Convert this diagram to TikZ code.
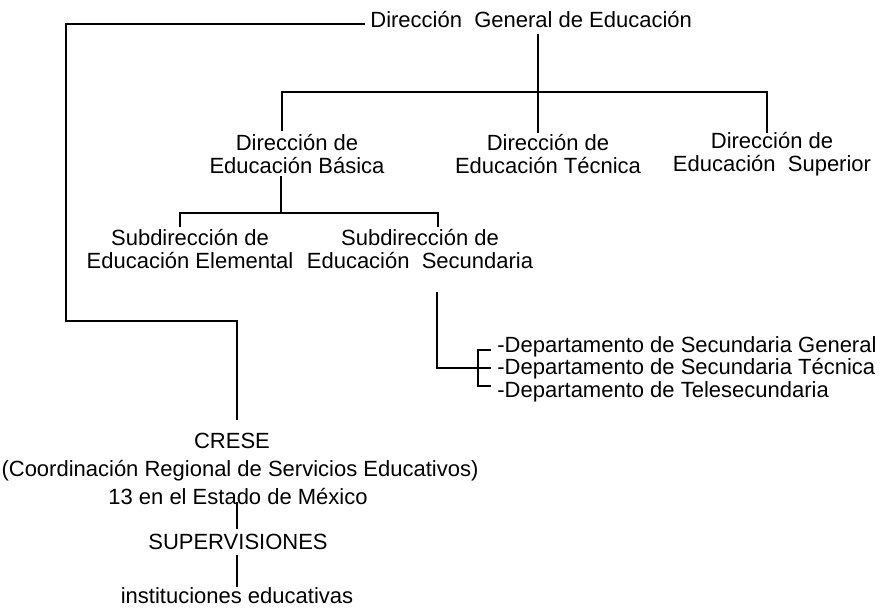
\documentclass[tikz,border=0pt]{standalone}
\usepackage{fontspec}
\setmainfont{Liberation Sans}
\begin{document}
\begin{tikzpicture}[x=0.5pt,y=-0.5pt,
  lbl/.style={font=\fontsize{11}{11.5}\selectfont, inner sep=0pt, align=center},
  conn/.style={draw=black, line width=1.15pt, line cap=rect}]
\useasboundingbox (0,0) rectangle (884,607);
% nodes
\node[lbl, anchor=base west] (title) at (370,27) {Dirección\ \ General de Educación};
\node[lbl] (bas) at (297,154) {Dirección de\\Educación Básica};
\node[lbl] (tec) at (548,154) {Dirección de\\Educación Técnica};
\node[lbl] (sup) at (772,154) {Dirección de\\Educación\ \ Superior};
\node[lbl] (elem) at (190,249) {Subdirección de\\Educación Elemental};
\node[lbl] (secu) at (420,249) {Subdirección de\\Educación\ \ Secundaria};
\node[lbl, align=left, anchor=west, font=\fontsize{11}{9.5}\selectfont] (depts) at (497,369)
  {-Departamento de Secundaria General\\-Departamento de Secundaria Técnica\\-Departamento de Telesecundaria};
\node[lbl] (crese) at (232,441) {CRESE};
\node[lbl] (coord) at (240,471) {(Coordinación Regional de Servicios Educativos)};
\node[lbl] (estado) at (238,496) {13 en el Estado de México};
\node[lbl] (superv) at (238,542) {SUPERVISIONES};
\node[lbl] (inst) at (237,596) {instituciones educativas};
% coordinates
\coordinate (tl) at (66,24);
\coordinate (bl) at (66,321);
\coordinate (cr) at (237,321);
\coordinate (crtop) at (237,419);
\coordinate (tdown) at (538,35);
\coordinate (tecup) at (538,132);
\coordinate (barL) at (282,92);
\coordinate (barR) at (767,92);
\coordinate (basup) at (282,130);
\coordinate (supup) at (767,132);
\coordinate (basdown) at (281,177);
\coordinate (sbar) at (281,213);
\coordinate (sbL) at (180,213);
\coordinate (sbR) at (438,213);
\coordinate (elemup) at (180,226);
\coordinate (secuup) at (438,226);
\coordinate (secudown) at (437,293);
\coordinate (secucorner) at (437,368);
\coordinate (brT) at (478,350);
\coordinate (brB) at (478,386);
\coordinate (tT) at (490,350);
\coordinate (tM) at (490,368);
\coordinate (tB) at (490,386);
\coordinate (e1) at (237,503);
\coordinate (e2) at (237,528);
\coordinate (s1) at (237,556);
\coordinate (s2) at (237,586);
% connectors
\draw[conn] ([shift={(-6,-3)}]title.base west) -- (tl) -- (bl) -- (cr) -- (crtop);
\draw[conn] (tdown) -- (tecup);
\draw[conn] (basup) -- (barL) -- (barR) -- (supup);
\draw[conn] (basdown) -- (sbar);
\draw[conn] (elemup) -- (sbL) -- (sbR) -- (secuup);
\draw[conn] (secudown) -- (secucorner) -- (tM);
\draw[conn] (tT) -- (brT) -- (brB) -- (tB);
\draw[conn] (e1) -- (e2);
\draw[conn] (s1) -- (s2);
\end{tikzpicture}
\end{document}
